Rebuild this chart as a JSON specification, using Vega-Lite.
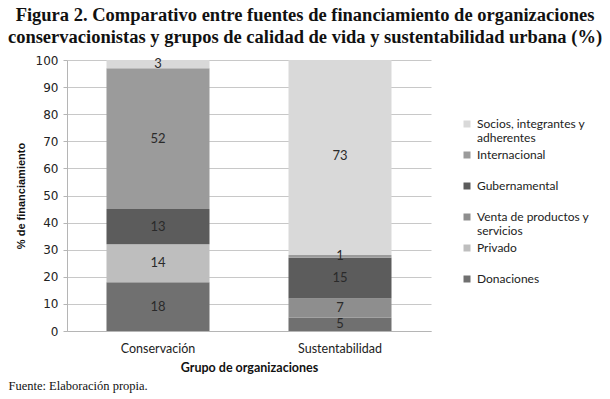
{
  "$schema": "https://vega.github.io/schema/vega-lite/v6.json",
  "autosize": {"type": "none"},
  "width": 364,
  "height": 271,
  "padding": {"top": 60, "left": 67, "right": 179, "bottom": 68},
  "background": "white",
  "title": {
    "text": ["Figura 2. Comparativo entre fuentes de financiamiento de organizaciones", "conservacionistas y grupos de calidad de vida y sustentabilidad urbana (%)"],
    "anchor": "middle",
    "frame": "group",
    "dx": 56,
    "offset": 8,
    "font": "Liberation Serif",
    "fontSize": 18.5,
    "fontWeight": "bold",
    "color": "#111111",
    "lineHeight": 22
  },
  "data": {
    "values": [
      {"grupo": "Conservación", "fuente": "Donaciones", "orden": 1, "valor": 18},
      {"grupo": "Conservación", "fuente": "Privado", "orden": 2, "valor": 14},
      {"grupo": "Conservación", "fuente": "Gubernamental", "orden": 4, "valor": 13},
      {"grupo": "Conservación", "fuente": "Internacional", "orden": 5, "valor": 52},
      {"grupo": "Conservación", "fuente": "Socios, integrantes y adherentes", "orden": 6, "valor": 3},
      {"grupo": "Sustentabilidad", "fuente": "Donaciones", "orden": 1, "valor": 5},
      {"grupo": "Sustentabilidad", "fuente": "Venta de productos y servicios", "orden": 3, "valor": 7},
      {"grupo": "Sustentabilidad", "fuente": "Gubernamental", "orden": 4, "valor": 15},
      {"grupo": "Sustentabilidad", "fuente": "Internacional", "orden": 5, "valor": 1},
      {"grupo": "Sustentabilidad", "fuente": "Socios, integrantes y adherentes", "orden": 6, "valor": 73}
    ]
  },
  "layer": [
    {
      "layer": [
        {
          "mark": {"type": "bar", "clip": true},
          "encoding": {
            "x": {
              "field": "grupo", "type": "nominal",
              "scale": {"paddingInner": 0.434, "paddingOuter": 0.217},
              "axis": {
                "title": "Grupo de organizaciones",
                "labelAngle": 0,
                "labelFont": "Lato", "labelFontSize": 12.5, "labelColor": "#222222",
                "labelPadding": 11,
                "ticks": false,
                "domainColor": "#b5b5b5",
                "titleFont": "Lato", "titleFontSize": 12.5, "titleFontWeight": "bold", "titleColor": "#111111",
                "titlePadding": 7
              }
            },
            "y": {
              "field": "valor", "type": "quantitative", "stack": "zero",
              "scale": {"domain": [0, 100], "nice": false},
              "axis": {
                "title": "% de financiamiento",
                "values": [0, 10, 20, 30, 40, 50, 60, 70, 80, 90, 100]
              }
            },
            "color": {
              "field": "fuente", "type": "nominal",
              "scale": {
                "domain": ["Socios, integrantes y adherentes", "Internacional", "Gubernamental", "Venta de productos y servicios", "Privado", "Donaciones"],
                "range": ["#d9d9d9", "#9b9b9b", "#5c5c5c", "#8e8e8e", "#bebebe", "#707070"]
              },
              "legend": {
                "title": null,
                "orient": "none",
                "legendX": 394,
                "legendY": 58,
                "symbolType": "square",
                "symbolSize": 49,
                "symbolStrokeWidth": 0,
                "labelFont": "Lato", "labelFontSize": 12, "labelColor": "#222222",
                "labelLineHeight": 15,
                "labelOffset": 4,
                "labelLimit": 200,
                "rowPadding": 5,
                "labelExpr": "datum.label == 'Socios, integrantes y adherentes' ? ['Socios, integrantes y', 'adherentes'] : datum.label == 'Venta de productos y servicios' ? ['Venta de productos y', 'servicios'] : [datum.label, ' ']"
              }
            },
            "order": {"field": "orden", "type": "quantitative"}
          }
        },
        {
          "transform": [
            {"stack": "valor", "groupby": ["grupo"], "sort": [{"field": "orden"}], "as": ["v0", "v1"]},
            {"calculate": "(datum.v0 + datum.v1) / 2", "as": "medio"}
          ],
          "mark": {"type": "text", "font": "Lato", "fontSize": 13, "color": "#2a2a2a"},
          "encoding": {
            "x": {"field": "grupo", "type": "nominal"},
            "y": {
              "field": "medio", "type": "quantitative",
              "axis": {
                "title": "% de financiamiento",
                "values": [0, 10, 20, 30, 40, 50, 60, 70, 80, 90, 100]
              }
            },
            "text": {"field": "valor", "type": "quantitative"}
          }
        }
      ]
    },
    {
      "mark": {"type": "text", "opacity": 0},
      "encoding": {
        "x": {
          "field": "grupo", "type": "nominal",
          "axis": {
            "orient": "bottom",
            "domain": false, "ticks": false, "labels": false, "grid": false,
            "title": "Fuente: Elaboración propia.",
            "titleFont": "Liberation Serif", "titleFontSize": 12.5, "titleFontWeight": "normal", "titleColor": "#111111",
            "titleAlign": "left", "titleAnchor": "start", "titleBaseline": "alphabetic",
            "titleX": -59, "titleY": 58
          }
        },
        "text": {"value": ""}
      }
    }
  ],
  "resolve": {"scale": {"x": "independent"}, "axis": {"x": "independent"}},
  "config": {
    "view": {"stroke": null},
    "axisY": {
      "labelFont": "DejaVu Sans", "labelFontSize": 12, "labelColor": "#222222",
      "labelPadding": 5,
      "tickSize": 4, "tickColor": "#b5b5b5",
      "domainColor": "#b5b5b5",
      "gridColor": "#c8c8c8",
      "titleFont": "Liberation Sans", "titleFontSize": 11, "titleFontWeight": "bold", "titleColor": "#111111",
      "titlePadding": 9
    }
  }
}
